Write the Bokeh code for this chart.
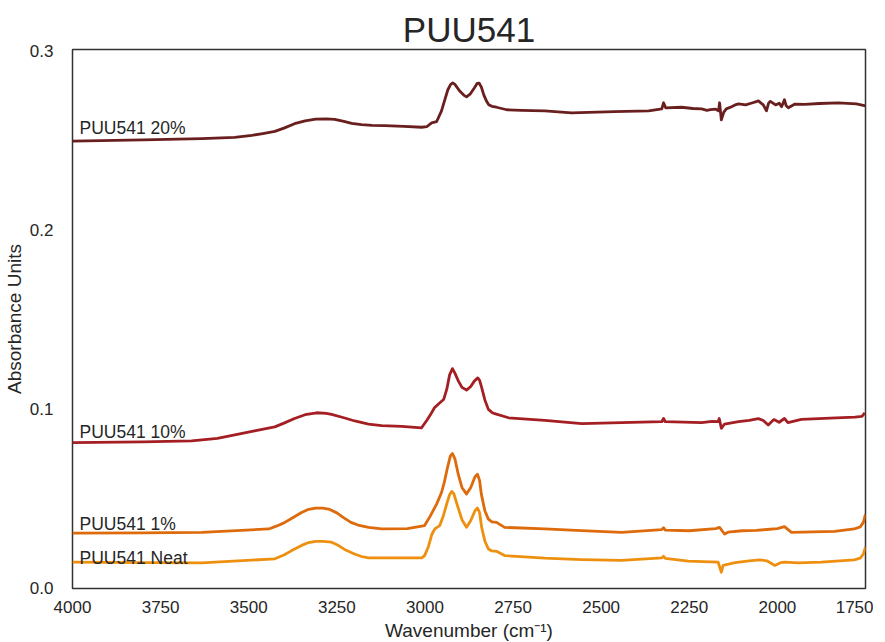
from bokeh.plotting import figure
from bokeh.models import Range1d, FixedTicker, PrintfTickFormatter, Label
from bokeh.embed import file_html
from bokeh.resources import INLINE

# ---- data ----
wn20 = [4000, 3800, 3633, 3540, 3491, 3460, 3426, 3400, 3370, 3340, 3310, 3280, 3256, 3230, 3208, 3180, 3150,
        3114, 3060, 3009, 2995, 2981, 2967, 2953, 2945, 2935, 2927, 2921, 2915, 2902, 2890, 2882, 2872, 2860,
        2852, 2846, 2840, 2833, 2825, 2819, 2810, 2797, 2768, 2726, 2660, 2584, 2462, 2365, 2328,
        2323, 2317, 2272, 2240, 2215, 2200, 2190, 2175, 2167, 2164, 2159, 2152, 2145, 2130, 2120, 2110, 2090,
        2070, 2060, 2054, 2040, 2031, 2025, 2020, 2005, 1995, 1988, 1980, 1975, 1969, 1950, 1923, 1880, 1827,
        1776, 1750]
v20 = [0.2498, 0.2505, 0.2511, 0.2518, 0.2530, 0.2540, 0.2552, 0.2570, 0.2595, 0.2611, 0.2620, 0.2622, 0.2619,
       0.2608, 0.2597, 0.2590, 0.2586, 0.2584, 0.2580, 0.2575, 0.2578, 0.2600, 0.2606, 0.2667, 0.2720, 0.2785,
       0.2815, 0.2823, 0.2815, 0.2779, 0.2755, 0.2745, 0.2760, 0.2795, 0.2820, 0.2822, 0.2800, 0.2756, 0.2720,
       0.2701, 0.2692, 0.2687, 0.2673, 0.2670, 0.2667, 0.2656, 0.2662, 0.2667, 0.2678,
       0.2712, 0.2684, 0.2687, 0.2680, 0.2678, 0.2670, 0.2674, 0.2676, 0.2667, 0.2712, 0.2617, 0.2660, 0.2678,
       0.2690, 0.2700, 0.2706, 0.2700, 0.2712, 0.2718, 0.2723, 0.2700, 0.2667, 0.2710, 0.2720, 0.2700, 0.2710,
       0.2690, 0.2729, 0.2695, 0.2684, 0.2705, 0.2703, 0.2708, 0.2712, 0.2706, 0.2695]

wn10 = [4000, 3800, 3662, 3589, 3522, 3480, 3426, 3400, 3370, 3340, 3307, 3280, 3265, 3230, 3199, 3160, 3123,
        3066, 3010, 2995, 2985, 2973, 2960, 2947, 2938, 2930, 2922, 2915, 2905, 2895, 2882, 2870, 2860, 2850,
        2845, 2839, 2830, 2820, 2810, 2802, 2763, 2660, 2555, 2442, 2328, 2323, 2318, 2215, 2185,
        2168, 2165, 2159, 2150, 2130, 2110, 2080, 2054, 2040, 2026, 2010, 1995, 1980, 1970, 1932, 1850, 1780,
        1760, 1752]
v10 = [0.0811, 0.0815, 0.0821, 0.0835, 0.0861, 0.0878, 0.0899, 0.0920, 0.0946, 0.0967, 0.0978, 0.0975, 0.0969,
       0.0950, 0.0932, 0.0915, 0.0906, 0.0902, 0.0893, 0.0935, 0.0965, 0.1006, 0.1030, 0.1052, 0.1110, 0.1190,
       0.1225, 0.1200, 0.1155, 0.1120, 0.1105, 0.1125, 0.1155, 0.1173, 0.1160, 0.1118, 0.1050, 0.0997, 0.0980,
       0.0973, 0.0950, 0.0935, 0.0917, 0.0923, 0.0928, 0.0946, 0.0928, 0.0923, 0.0930,
       0.0928, 0.0946, 0.0891, 0.0915, 0.0922, 0.0928, 0.0935, 0.0945, 0.0935, 0.0910, 0.0940, 0.0925, 0.0946,
       0.0923, 0.0941, 0.0948, 0.0954, 0.0958, 0.0978]

wn1 = [4000, 3800, 3633, 3443, 3420, 3400, 3380, 3350, 3330, 3310, 3290, 3270, 3250, 3230, 3210, 3190, 3160,
       3123, 3050, 3001, 2985, 2967, 2953, 2945, 2935, 2928, 2922, 2915, 2905, 2895, 2882, 2870, 2858, 2851,
       2845, 2840, 2830, 2820, 2810, 2797, 2774, 2660, 2556, 2442, 2328, 2323, 2318, 2250,
       2175, 2164, 2150, 2140, 2100, 2060, 2030, 2000, 1980, 1960, 1900, 1838, 1782, 1765, 1756, 1750]
v1 = [0.0305, 0.0306, 0.0309, 0.0328, 0.0345, 0.0362, 0.0385, 0.0420, 0.0438, 0.0445, 0.0445, 0.0437, 0.0418,
      0.0390, 0.0365, 0.0350, 0.0337, 0.0328, 0.0330, 0.0347, 0.0400, 0.0467, 0.0532, 0.0590, 0.0680, 0.0735,
      0.0750, 0.0720, 0.0630, 0.0560, 0.0523, 0.0560, 0.0620, 0.0634, 0.0600, 0.0523, 0.0430, 0.0383, 0.0368,
      0.0365, 0.0337, 0.0328, 0.0319, 0.0309, 0.0324, 0.0335, 0.0322, 0.0318,
      0.0330, 0.0337, 0.0300, 0.0310, 0.0318, 0.0320, 0.0325, 0.0330, 0.0341, 0.0309, 0.0312, 0.0315, 0.0328,
      0.0340, 0.0365, 0.0411]

wnN = [4000, 3800, 3633, 3426, 3400, 3378, 3350, 3330, 3310, 3290, 3265, 3245, 3225, 3200, 3180, 3160, 3009,
       3001, 2990, 2980, 2972, 2958, 2948, 2938, 2930, 2924, 2918, 2908, 2895, 2882, 2870, 2858, 2851, 2845,
       2839, 2830, 2820, 2810, 2797, 2774, 2660, 2556, 2442, 2328, 2323, 2318, 2253, 2168,
       2159, 2154, 2120, 2080, 2050, 2030, 2007, 1990, 1980, 1940, 1875, 1782, 1765, 1756, 1750]
vN = [0.0142, 0.0140, 0.0138, 0.0161, 0.0182, 0.0207, 0.0236, 0.0252, 0.0259, 0.0259, 0.0254, 0.0235, 0.0210,
      0.0188, 0.0174, 0.0166, 0.0166, 0.0179, 0.0230, 0.0300, 0.0328, 0.0347, 0.0400, 0.0470, 0.0520, 0.0538,
      0.0525, 0.0460, 0.0380, 0.0337, 0.0375, 0.0430, 0.0445, 0.0420, 0.0337, 0.0260, 0.0216, 0.0205, 0.0203,
      0.0179, 0.0165, 0.0157, 0.0152, 0.0166, 0.0175, 0.0163, 0.0148, 0.0142,
      0.0086, 0.0124, 0.0140, 0.0150, 0.0155, 0.0150, 0.0124, 0.0140, 0.0142, 0.0138, 0.0142, 0.0155, 0.0165,
      0.0188, 0.0226]

series_names = ["PUU541 20%", "PUU541 10%", "PUU541 1%", "PUU541 Neat"]
label_y = [0.2571, 0.0872, 0.0356, 0.0166]
label_x = 3980
x_ticks = [4000, 3750, 3500, 3250, 3000, 2750, 2500, 2250, 2000, 1750]
y_ticks = [0.0, 0.1, 0.2, 0.3]

colors = ["#6a1f1f", "#a41f23", "#dd6a0b", "#ee900f"]
FONT = "Liberation Sans"
TXT = "#262626"

p = figure(frame_width=793, frame_height=539, output_backend="svg", toolbar_location=None,
           x_range=Range1d(4000, 1750), y_range=Range1d(-0.0005, 0.301),
           min_border_left=66, min_border_top=49, min_border_right=8, min_border_bottom=40)

p.title.text = "PUU541"
p.title.align = "center"
p.title.text_font = FONT
p.title.text_font_size = "35px"
p.title.text_font_style = "normal"
p.title.text_color = TXT
p.title.standoff = 2

p.xgrid.visible = False
p.ygrid.visible = False
p.outline_line_color = "#333333"
p.outline_line_width = 1.5
p.background_fill_color = "white"
p.border_fill_color = "white"

for ax in (p.xaxis[0], p.yaxis[0]):
    ax.axis_line_color = None
    ax.major_tick_line_color = None
    ax.minor_tick_line_color = None
    ax.major_label_text_font = FONT
    ax.major_label_text_font_size = "17px"
    ax.major_label_text_color = TXT
    ax.axis_label_text_font = FONT
    ax.axis_label_text_font_size = "19px"
    ax.axis_label_text_font_style = "normal"
    ax.axis_label_text_color = TXT

p.xaxis.ticker = FixedTicker(ticks=x_ticks)
p.yaxis.ticker = FixedTicker(ticks=y_ticks)
p.yaxis.formatter = PrintfTickFormatter(format="%.1f")
p.xaxis.axis_label = "Wavenumber (cm\u207b\u00b9)"
p.yaxis.axis_label = "Absorbance Units"
p.xaxis.major_label_standoff = 6
p.xaxis.axis_label_standoff = 4
p.yaxis.major_label_standoff = 13
p.yaxis.axis_label_standoff = 2

for xs, ys, c in zip([wn20, wn10, wn1, wnN], [v20, v10, v1, vN], colors):
    p.line(xs, ys, line_color=c, line_width=2.8, line_join="round")

for name, ly in zip(series_names, label_y):
    p.add_layout(Label(x=label_x, y=ly, text=name, text_font=FONT, text_font_size="17.5px",
                       text_color=TXT, text_baseline="alphabetic"))

open("out.html", "w").write(file_html(p, INLINE))
